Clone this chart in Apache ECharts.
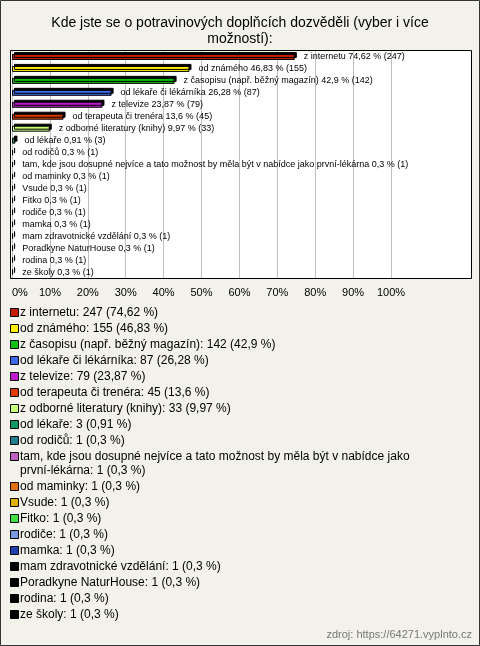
<!DOCTYPE html>
<html><head><meta charset="utf-8">
<script src="https://cdn.jsdelivr.net/npm/echarts@6/dist/echarts.min.js"></script>
<style>html,body{margin:0;padding:0;background:#f3f2ea}#c{width:480px;height:646px}</style>
</head><body><div id="c"></div>
<script>
const titleText = 'Kde jste se o potravinových doplňcích dozvěděli (vyber i více\nmožností):';
const categories = ['z internetu','od známého','z časopisu (např. běžný magazín)','od lékaře či lékárníka','z televize','od terapeuta či trenéra','z odborné literatury (knihy)','od lékaře','od rodičů','tam, kde jsou dosupné nejvíce a tato možnost by měla být v nabídce jako první-lékárna','od maminky','Vsude','Fitko','rodiče','mamka','mam zdravotnické vzdělání','Poradkyne NaturHouse','rodina','ze školy'];
const counts = [247,155,142,87,79,45,33,3,1,1,1,1,1,1,1,1,1,1,1];
const percents = [74.62,46.83,42.9,26.28,23.87,13.6,9.97,0.91,0.3,0.3,0.3,0.3,0.3,0.3,0.3,0.3,0.3,0.3,0.3];
const colors = ['#c41e00','#ffee00','#10c010','#3a6ae8','#c01ad0','#e03c00','#c8ff78','#109860','#1e7e90','#c060c0','#e07010','#e0b000','#40e040','#7898e0','#2040b0','#000000','#000000','#000000','#000000'];
const tickLabels = ['0%','10%','20%','30%','40%','50%','60%','70%','80%','90%','100%'];
const sourceText = 'zdroj: https://64271.vyplnto.cz';

const fmt = v => String(v).replace('.', ',');
const chart = echarts.init(document.getElementById('c'), null, {renderer:'canvas'});
const FONT = '"Liberation Sans", Arial, sans-serif';

const gx = 12, gw = 379, gt = 51, gh = 227;
const graphics = [
  {type:'rect', z:-10, shape:{x:0.5,y:0.5,width:479,height:645}, style:{fill:'#f3f2ea', stroke:'#333', lineWidth:1}},
  {type:'rect', z:-5, shape:{x:10.5,y:50.5,width:461,height:228}, style:{fill:'#ffffff', stroke:'#000', lineWidth:1}}
];
// legend
let ly = 313;
categories.forEach((c,i)=>{
  const txt = c + ': ' + counts[i] + ' (' + fmt(percents[i]) + ' %)';
  graphics.push({type:'rect', shape:{x:10.5,y:ly-4.5,width:8,height:8}, style:{fill:colors[i], stroke:'#000', lineWidth:1}});
  graphics.push({type:'text', x:20, y:ly-7, style:{text:txt, font:'12px '+FONT, fill:'#000', verticalAlign:'top', width:440, overflow:'break', lineHeight:14}});
  ly += (c.length > 60 ? 30 : 16);
});
graphics.push({type:'text', right:8, y:629, style:{text:sourceText, font:'11px '+FONT, fill:'#777'}});

chart.setOption({
  backgroundColor:'#f3f2ea',
  animation:false,
  title:{text:titleText, left:'center', top:10, textStyle:{fontFamily:FONT, fontSize:14, fontWeight:'normal', color:'#000', lineHeight:16}},
  grid:{left:gx, width:gw, top:gt, height:gh},
  xAxis:{type:'value', min:0, max:100, interval:10, position:'bottom',
    axisLine:{show:false}, axisTick:{show:false},
    splitLine:{show:true, lineStyle:{color:'#c0c0c0', width:1}},
    axisLabel:{color:'#000', fontFamily:FONT, fontSize:11, margin:9, alignMinLabel:'left', formatter:(v)=>tickLabels[Math.round(v/10)]}},
  yAxis:{type:'category', data:categories, inverse:true, show:false},
  series:[{type:'bar', data:percents.map((p,i)=>({value:p, itemStyle:{color:colors[i]}})),
    barWidth:6,
    itemStyle:{borderColor:'#000', borderWidth:1, shadowColor:'#000', shadowOffsetX:2, shadowOffsetY:-2, shadowBlur:0},
    label:{show:true, position:'right', distance:9, fontFamily:FONT, fontSize:9, color:'#000',
      formatter:(p)=>categories[p.dataIndex]+' '+fmt(percents[p.dataIndex])+' % ('+counts[p.dataIndex]+')'}
  }],
  graphic:graphics
});
</script></body></html>
